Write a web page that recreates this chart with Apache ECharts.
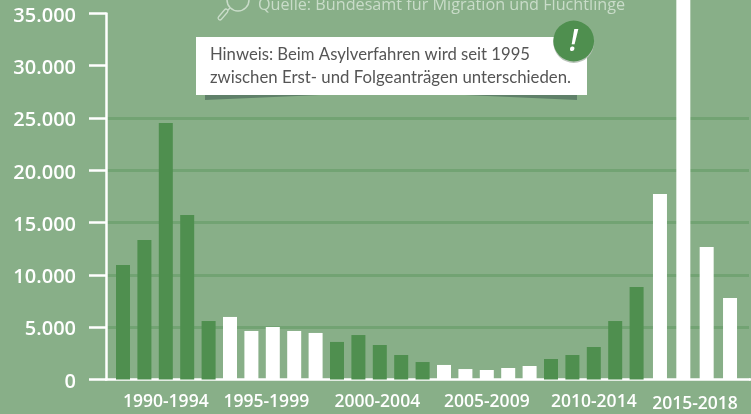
<!DOCTYPE html>
<html>
<head>
<meta charset="utf-8">
<style>
  html, body { margin: 0; padding: 0; background: #88af88; }
  #chart { width: 751px; height: 414px; }
</style>
<script src="https://cdn.jsdelivr.net/npm/echarts@6/dist/echarts.min.js"></script>
</head>
<body>
<div id="chart"></div>
<script>
const years = ["1990", "1991", "1992", "1993", "1994", "1995", "1996", "1997", "1998", "1999",
  "2000", "2001", "2002", "2003", "2004", "2005", "2006", "2007", "2008", "2009",
  "2010", "2011", "2012", "2013", "2014"];
const values = [10950, 13340, 24520, 15730, 5590, 5980, 4640, 5020, 4640, 4450,
  3590, 4250, 3300, 2340, 1670, 1390, 1000, 910, 1100, 1290,
  1960, 2340, 3110, 5590, 8840];
const lateYears = ["2015", "2016", "2017", "2018"];
// 2016 runs off the top of the picture, the value is a guess
const lateValues = [17730, 50000, 12670, 7790];
const groupLabels = ["1990-1994", "1995-1999", "2000-2004", "2005-2009", "2010-2014"];
const lateGroupLabel = "2015-2018";
const yTicks = [0, 5000, 10000, 15000, 20000, 25000, 30000, 35000];

const BG = "#88af88";
const DARK = "#4f8f4f";
const GRIDLINE = "#72a373";
const SOURCE = "#c9dcc9";
const FONT = "'Open Sans', sans-serif";

const chart = echarts.init(document.getElementById("chart"), null, { renderer: "canvas" });

function barColor(year) {
  const start = Number(year) - 1990;
  return Math.floor(start / 5) % 2 === 0 ? DARK : "#ffffff";
}

const hiddenY = (gridIndex) => ({
  type: "value", gridIndex, min: 0, max: 35000, interval: 5000, show: false,
});

const labelStyle = { color: "#ffffff", fontFamily: FONT, fontWeight: 600, fontSize: 17.5 };
const tickStyle = { color: "#ffffff", fontFamily: FONT, fontWeight: 600, fontSize: 20 };

chart.setOption({
  animation: false,
  backgroundColor: BG,
  grid: [
    { left: 106, width: 643, top: 13.4, bottom: 34.5, outerBoundsMode: "none" },
    { left: 112.3, width: 535, top: 13.4, bottom: 34.5, outerBoundsMode: "none" },
    { left: 648.3, width: 93.4, top: 13.4, bottom: 34.5, outerBoundsMode: "none" },
  ],
  xAxis: [
    {
      type: "category", gridIndex: 0, data: [], axisTick: { show: false }, axisLabel: { show: false },
      axisLine: { lineStyle: { color: "#fff", width: 2.5 } },
    },
    {
      type: "category", gridIndex: 1, data: years,
      axisLine: { show: false }, axisTick: { show: false },
      axisLabel: {
        ...labelStyle,
        margin: 14,
        interval: (i) => i % 5 === 2,
        formatter: (value, i) => {
          const label = groupLabels[Math.floor(i / 5)];
          if (i === 7) return `{a|${label}}`;
          if (i === 12) return `{b|${label}}`;
          return label;
        },
        rich: {
          a: { ...labelStyle, padding: [0, 13, 0, 0] },
          b: { ...labelStyle, padding: [0, 5, 0, 0] },
        },
      },
    },
    {
      type: "category", gridIndex: 2, data: lateYears,
      axisLine: { show: false }, axisTick: { show: false }, axisLabel: { show: false },
      name: lateGroupLabel, nameLocation: "middle", nameGap: 16,
      nameTextStyle: labelStyle,
    },
  ],
  yAxis: [
    {
      type: "value", gridIndex: 0, min: 0, max: 35000, interval: 5000,
      axisLine: { show: true, lineStyle: { color: "#fff", width: 2.5 } },
      axisTick: { show: true, length: 17, lineStyle: { color: "#fff", width: 2.5 } },
      axisLabel: {
        ...tickStyle,
        margin: 30,
        formatter: (v) => `{v|${v === 0 ? "0" : (v / 1000).toFixed(3)}}`,
        rich: { v: { ...tickStyle, padding: [5, 0, 0, 0] } },
      },
      // only the ticks up to 25.000 get a line
      splitLine: {
        show: true,
        lineStyle: {
          width: 3,
          color: yTicks.map((t) => (t <= 25000 && t > 0 ? GRIDLINE : "rgba(0,0,0,0)")),
        },
      },
    },
    hiddenY(1),
    hiddenY(2),
  ],
  series: [
    {
      type: "bar", xAxisIndex: 1, yAxisIndex: 1, barWidth: 14, clip: false,
      data: values.map((value, i) => ({ value, itemStyle: { color: barColor(years[i]) } })),
    },
    {
      type: "bar", xAxisIndex: 2, yAxisIndex: 2, barWidth: 14, clip: false,
      data: lateValues, itemStyle: { color: "#ffffff" },
    },
  ],
  graphic: [
    // tail of the baseline
    { type: "rect", shape: { x: 749, y: 378.3, width: 2, height: 2.5 }, style: { fill: "#fff" } },
    // source line
    { type: "text", style: { x: 258, y: 5, text: "Quelle: Bundesamt für Migration und Flüchtlinge",
        fill: SOURCE, font: "16.2px " + FONT, textVerticalAlign: "middle" } },
    { type: "circle", shape: { cx: 238, cy: 0, r: 11 }, style: { fill: "none", stroke: SOURCE, lineWidth: 1.5 } },
    { type: "line", shape: { x1: 230, y1: 8, x2: 226, y2: 12 }, style: { stroke: SOURCE, lineWidth: 1.5 } },
    { type: "line", shape: { x1: 226, y1: 11, x2: 220, y2: 18 }, style: { stroke: SOURCE, lineWidth: 5, lineCap: "round" } },
    { type: "line", shape: { x1: 226, y1: 11, x2: 220, y2: 18 }, style: { stroke: BG, lineWidth: 2.4, lineCap: "round" } },
    // note box
    { type: "polygon", z: 10, shape: { points: [[205, 95], [320, 95], [205, 100]] }, style: { fill: "#5f8069" } },
    { type: "polygon", z: 10, shape: { points: [[465, 95], [577, 95], [577, 100]] }, style: { fill: "#5f8069" } },
    { type: "rect", z: 11, shape: { x: 196, y: 37, width: 391, height: 58 }, style: { fill: "#fff" } },
    { type: "text", z: 12, style: { x: 210, y: 55, text: "Hinweis: Beim Asylverfahren wird seit 1995",
        fill: "#555555", font: "16.7px Lato, sans-serif", textVerticalAlign: "middle" } },
    { type: "text", z: 12, style: { x: 210, y: 78, text: "zwischen Erst- und Folgeanträgen unterschieden.",
        fill: "#555555", font: "16.8px Lato, sans-serif", textVerticalAlign: "middle" } },
    { type: "circle", z: 13, shape: { cx: 573.7, cy: 42.5, r: 20.4 }, style: { fill: "#b9c4b9" } },
    { type: "circle", z: 14, shape: { cx: 573.7, cy: 41, r: 20.4 }, style: { fill: DARK } },
    { type: "text", z: 15, style: { x: 573.5, y: 42, text: "!", fill: "#fff",
        font: "italic 600 30px " + FONT, textAlign: "center", textVerticalAlign: "middle" } },
  ],
});
</script>
</body>
</html>
